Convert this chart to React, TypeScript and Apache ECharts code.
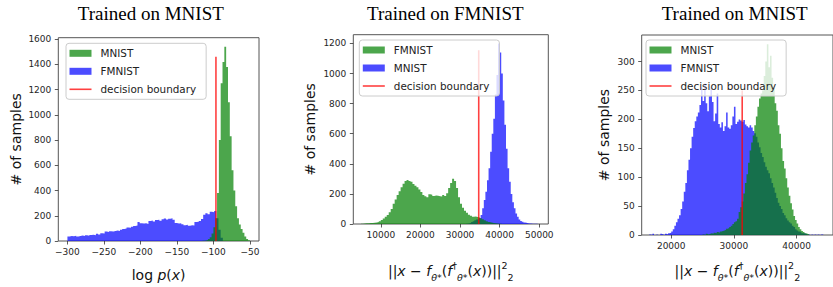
import React, { useEffect, useRef } from 'react';
import * as echarts from 'echarts';

const FONT = 'DejaVu Sans';

// ---------- Panel 1: Trained on MNIST, log p(x) ----------
const p1MnistStart = -115;
const p1MnistBinWidth = 2.5;
const p1MnistCounts = [2, 4, 8, 15, 30, 60, 110, 180, 380, 800, 1250, 1420, 1540, 1380, 1100, 830, 560, 400, 275, 180, 130, 95, 65, 35, 15, 5];
const p1FmnistStart = -300;
const p1FmnistBinWidth = 3;
const p1FmnistCounts = [
  36, 40, 38, 42, 36, 40, 44, 40, 46, 42, 48, 50, 46, 58, 52, 62, 60, 75, 72, 78,
  76, 80, 84, 80, 90, 96, 100, 108, 106, 112, 118, 122, 150, 140, 138, 140, 135, 158, 162, 155,
  166, 168, 160, 172, 178, 170, 176, 180, 168, 142, 138, 140, 132, 125, 128, 120, 124, 122, 150, 152,
  158, 175, 208, 220, 212, 232, 228, 238, 180, 90, 25,
];
const p1BoundaryX = -96.5;
const p1BoundaryTop = 1460;
const p1XRange = [-312.5, -37.5];
const p1YMax = 1612;
const p1XTicks = [-300, -250, -200, -150, -100, -50];
const p1YTicks = [0, 200, 400, 600, 800, 1000, 1200, 1400, 1600];

// ---------- Panel 2: Trained on FMNIST, reconstruction error ----------
const p2FmnistStart = 5000;
const p2FmnistBinWidth = 500;
const p2FmnistCounts = [
  2, 4, 5, 5, 6, 7, 8, 10, 13, 18, 27, 36, 48, 60, 78, 100, 135, 162, 192, 218,
  245, 268, 285, 292, 286, 280, 266, 255, 244, 230, 212, 193, 185, 178, 198, 194, 186, 190, 188, 185,
  182, 192, 186, 205, 240, 272, 300, 285, 240, 178, 135, 108, 88, 74, 62, 54, 48, 50, 46, 44,
  38, 32, 25, 19, 14, 10, 7, 5, 3, 2, 1,
];
const p2MnistStart = 31600;
const p2MnistBinWidth = 400;
const p2MnistCounts = [
  2, 4, 8, 13, 19, 25, 30, 34, 40, 60, 105, 160, 215, 290, 370, 480, 600, 700, 860, 990,
  1200, 1140, 1000, 820, 660, 500, 370, 280, 200, 145, 105, 70, 48, 30, 20, 15, 10, 8, 5, 4,
  3, 2, 2, 1, 1,
];
const p2BoundaryX = 34720;
const p2BoundaryTop = 1155;
const p2XRange = [3060, 52280];
const p2YMax = 1258;
const p2XTicks = [10000, 20000, 30000, 40000, 50000];
const p2YTicks = [0, 200, 400, 600, 800, 1000, 1200];

// ---------- Panel 3: Trained on MNIST, reconstruction error ----------
const p3MnistStart = 25000;
const p3MnistBinWidth = 250;
const p3MnistCounts = [
  1, 0, 2, 1, 2, 3, 2, 4, 3, 5, 4, 6, 7, 8, 9, 11, 12, 14, 16, 19,
  22, 24, 28, 40, 48, 58, 72, 90, 105, 125, 146, 160, 172, 190, 205, 222, 236, 245, 250, 275,
  300, 330, 290, 310, 272, 255, 228, 215, 190, 175, 150, 128, 115, 98, 82, 68, 55, 44, 33, 26,
  20, 14, 10, 7, 5, 3, 2, 1,
];
const p3FmnistStart = 16500;
const p3FmnistBinWidth = 250;
const p3FmnistCounts = [
  1, 0, 2, 0, 1, 0, 0, 2, 1, 0, 2, 1, 3, 4,
  6, 10, 16, 22, 28, 34, 45, 58, 75, 90, 112, 130, 150, 170, 185, 197, 205, 212, 225, 255,
  232, 262, 228, 214, 240, 255, 230, 197, 210, 245, 192, 186, 195, 180, 188, 212, 186, 184, 190, 205,
  222, 192, 196, 200, 198, 196, 199, 191, 188, 186, 190, 186, 180, 176, 170, 160, 152, 142, 135, 126,
  118, 112, 107, 98, 90, 82, 73, 64, 56, 50, 45, 38, 34, 29, 25, 22, 20, 16, 14, 10,
  8, 6, 5, 3, 3, 2, 1, 1, 0, 1, 0, 1, 0, 1, 0, 1, 1,
];
const p3BoundaryX = 31320;
const p3BoundaryTop = 250;
const p3XRange = [15292, 45800];
const p3YMax = 346;
const p3XTicks = [20000, 30000, 40000];
const p3YTicks = [0, 50, 100, 150, 200, 250, 300];

const GREEN = 'rgba(0,128,0,0.7)';
const BLUE = 'rgba(0,0,255,0.7)';
const RED = 'rgba(255,0,0,0.75)';

const fmt = (v: number) => (v < 0 ? '\u2212' + Math.abs(v) : String(v));

function histSeries(name: string, start: number, width: number, counts: number[], color: string, idx: number) {
  const data: number[][] = counts.map((c, i) => [start + i * width, c]);
  data.push([start + counts.length * width, counts[counts.length - 1]]);
  return {
    type: 'line',
    name,
    xAxisIndex: idx,
    yAxisIndex: idx,
    data,
    step: 'end',
    symbol: 'none',
    showSymbol: false,
    color,
    itemStyle: { color },
    lineStyle: { width: 0, opacity: 0 },
    areaStyle: { color, opacity: 1 },
    silent: true,
    z: 2,
  };
}

function boundarySeries(name: string, x: number, top: number, idx: number) {
  return {
    type: 'line',
    name,
    xAxisIndex: idx,
    yAxisIndex: idx,
    data: [[x, 0], [x, top]],
    symbol: 'none',
    showSymbol: false,
    color: RED,
    lineStyle: { color: RED, width: 1.6 },
    silent: true,
    z: 3,
  };
}

const mathRich = {
  n: { fontFamily: FONT, fontSize: 14, color: '#111', lineHeight: 22, verticalAlign: 'middle' },
  i: { fontFamily: FONT, fontSize: 14, fontStyle: 'italic', color: '#111', lineHeight: 22, verticalAlign: 'middle' },
  sb: { fontFamily: FONT, fontSize: 9.5, fontStyle: 'italic', color: '#111', lineHeight: 9, verticalAlign: 'bottom' },
  sp: { fontFamily: FONT, fontSize: 9.5, color: '#111', lineHeight: 9, verticalAlign: 'top' },
  sbn: { fontFamily: FONT, fontSize: 9.5, color: '#111', lineHeight: 9, verticalAlign: 'bottom' },
};

const reconName = '{n|||}{i|x}{n| \u2212 }{i|f}{sb|\u03b8*}{n|(}{i|f}{sp|\u2020}{sb|\u03b8*}{n|(}{i|x}{n|))||}{sp|2}{sbn|2}';

function xAxisCfg(idx: number, range: number[], ticks: number[], name: string, nameGap: number) {
  return {
    type: 'value',
    gridIndex: idx,
    min: range[0],
    max: range[1],
    splitLine: { show: false },
    axisLine: { show: false },
    axisTick: { show: true, inside: false, length: 3.5, lineStyle: { color: '#333', width: 0.8 }, customValues: ticks },
    axisLabel: { customValues: ticks, formatter: fmt, fontSize: 9, fontFamily: FONT, color: '#262626', margin: 6 },
    name,
    nameLocation: 'middle',
    nameGap,
    nameTextStyle: { fontFamily: FONT, fontSize: 14, color: '#111', rich: mathRich },
  };
}

function yAxisCfg(idx: number, max: number, ticks: number[], nameGap: number) {
  return {
    type: 'value',
    gridIndex: idx,
    min: 0,
    max,
    splitLine: { show: false },
    axisLine: { show: false },
    axisTick: { show: true, inside: false, length: 3.5, lineStyle: { color: '#333', width: 0.8 }, customValues: ticks },
    axisLabel: { customValues: ticks, formatter: fmt, fontSize: 9, fontFamily: FONT, color: '#262626', margin: 7 },
    name: '# of samples',
    nameLocation: 'middle',
    nameGap,
    nameTextStyle: { fontFamily: FONT, fontSize: 14, color: '#111' },
  };
}

const LINE_ICON = 'path://M0 0H220V16H0Z';

function legendCfg(left: number, top: number, names: any[]) {
  return {
    orient: 'vertical',
    left,
    top,
    itemWidth: 22,
    itemHeight: 7,
    itemGap: 6,
    padding: [4, 10, 4, 3.5],
    backgroundColor: 'rgba(255,255,255,0.8)',
    borderColor: '#cccccc',
    borderWidth: 1,
    borderRadius: 3,
    selectedMode: false,
    symbolKeepAspect: true,
    itemStyle: { borderWidth: 0 },
    textStyle: { fontFamily: FONT, fontSize: 10.4, color: '#222', lineHeight: 12, padding: [0, 0, 0, 4] },
    formatter: (n: string) => n.replace(/_\d$/, ''),
    data: names,
  };
}

const boundaryLegend = (name: string) => ({ name, icon: LINE_ICON, itemStyle: { color: RED, borderWidth: 0 } });

export default function App() {
  const ref = useRef<HTMLDivElement>(null);
  useEffect(() => {
    if (!ref.current) return;
    const chart = echarts.init(ref.current, undefined, { renderer: 'svg' });
    const titleStyle = { font: '19px "Liberation Serif"', fill: '#000', align: 'center', verticalAlign: 'middle', textAlign: 'center', textVerticalAlign: 'middle' };
    const option: any = {
      animation: false,
      textStyle: { fontFamily: FONT },
      grid: [
        { left: 58.3, top: 37.7, width: 200.7, height: 209.6, show: true, borderColor: '#555', borderWidth: 1, backgroundColor: 'transparent' },
        { left: 353.3, top: 34.7, width: 195, height: 206, show: true, borderColor: '#555', borderWidth: 1, backgroundColor: 'transparent' },
        { left: 641.7, top: 35, width: 198.3, height: 205, show: true, borderColor: '#555', borderWidth: 1, backgroundColor: 'transparent' },
      ],
      xAxis: [
        xAxisCfg(0, p1XRange, p1XTicks, '{n|log }{i|p}{n|(}{i|x}{n|)}', 23),
        xAxisCfg(1, p2XRange, p2XTicks, reconName, 36),
        xAxisCfg(2, p3XRange, p3XTicks, reconName, 25),
      ],
      yAxis: [
        yAxisCfg(0, p1YMax, p1YTicks, 35),
        yAxisCfg(1, p2YMax, p2YTicks, 36),
        yAxisCfg(2, p3YMax, p3YTicks, 30.7),
      ],
      legend: [
        legendCfg(66, 43.3, [
          { name: 'MNIST_1', icon: 'rect' },
          { name: 'FMNIST_1', icon: 'rect' },
          boundaryLegend('decision boundary_1'),
        ]),
        legendCfg(359.3, 40, [
          { name: 'FMNIST_2', icon: 'rect' },
          { name: 'MNIST_2', icon: 'rect' },
          boundaryLegend('decision boundary_2'),
        ]),
        legendCfg(646, 40, [
          { name: 'MNIST_3', icon: 'rect' },
          { name: 'FMNIST_3', icon: 'rect' },
          boundaryLegend('decision boundary_3'),
        ]),
      ],
      graphic: [
        { type: 'text', x: 150.8, y: 13.6, style: { text: 'Trained on MNIST', ...titleStyle } },
        { type: 'text', x: 445.3, y: 13.6, style: { text: 'Trained on FMNIST', ...titleStyle } },
        { type: 'text', x: 734.7, y: 13.6, style: { text: 'Trained on MNIST', ...titleStyle } },
      ],
      series: [
        histSeries('FMNIST_1', p1FmnistStart, p1FmnistBinWidth, p1FmnistCounts, BLUE, 0),
        histSeries('MNIST_1', p1MnistStart, p1MnistBinWidth, p1MnistCounts, GREEN, 0),
        boundarySeries('decision boundary_1', p1BoundaryX, p1BoundaryTop, 0),
        histSeries('MNIST_2', p2MnistStart, p2MnistBinWidth, p2MnistCounts, BLUE, 1),
        histSeries('FMNIST_2', p2FmnistStart, p2FmnistBinWidth, p2FmnistCounts, GREEN, 1),
        boundarySeries('decision boundary_2', p2BoundaryX, p2BoundaryTop, 1),
        histSeries('FMNIST_3', p3FmnistStart, p3FmnistBinWidth, p3FmnistCounts, BLUE, 2),
        histSeries('MNIST_3', p3MnistStart, p3MnistBinWidth, p3MnistCounts, GREEN, 2),
        boundarySeries('decision boundary_3', p3BoundaryX, p3BoundaryTop, 2),
      ],
    };
    chart.setOption(option);
    return () => chart.dispose();
  }, []);
  return <div ref={ref} style={{ position: 'absolute', left: 0, top: 0, width: 833, height: 287, background: '#fff' }} />;
}
